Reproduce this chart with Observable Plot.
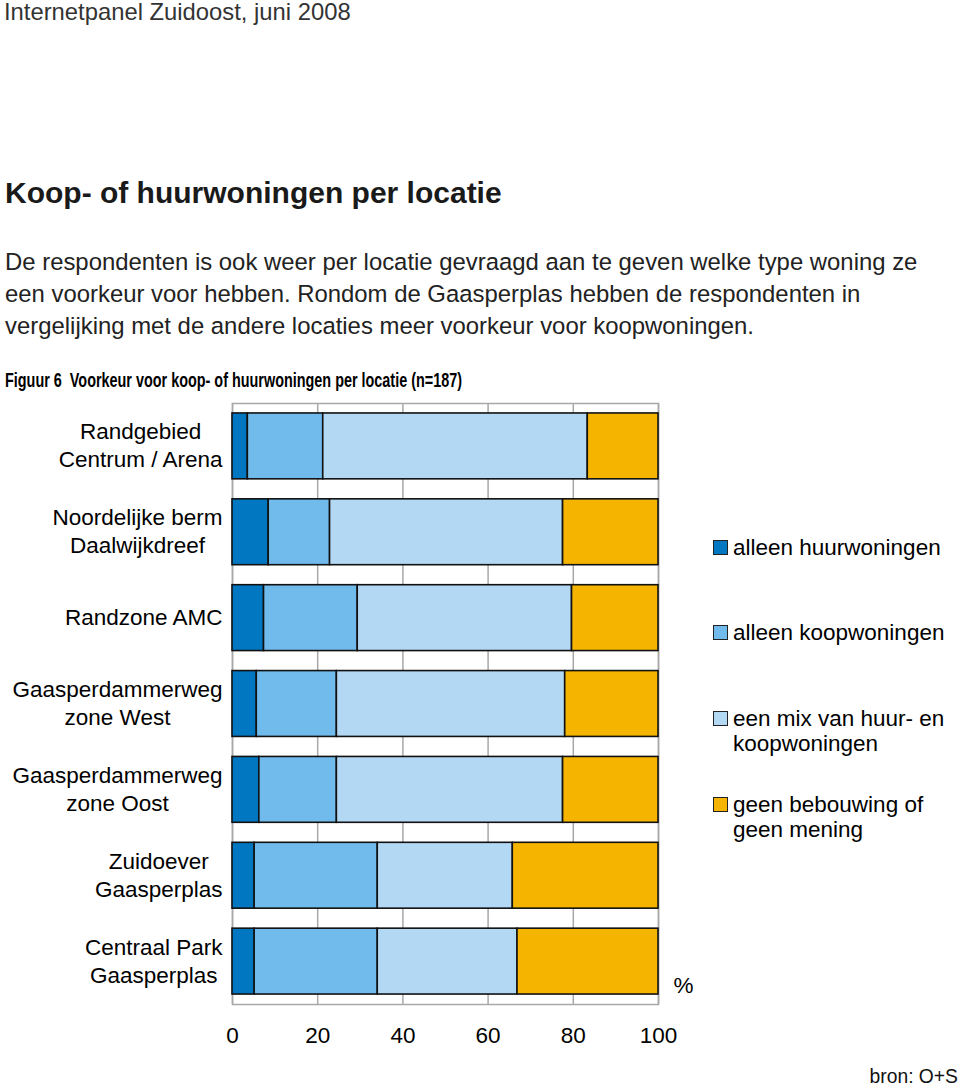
<!DOCTYPE html>
<html>
<head>
<meta charset="utf-8">
<script src="https://cdn.jsdelivr.net/npm/d3@7"></script>
<script src="https://cdn.jsdelivr.net/npm/@observablehq/plot@0.6"></script>
<style>
  html, body { margin: 0; padding: 0; background: #fff; }
  body { width: 960px; height: 1089px; position: relative; overflow: hidden;
         font-family: "Liberation Sans", Arial, Helvetica, sans-serif; color: #000; }
  .abs { position: absolute; white-space: nowrap; }
  #top { left: 4px; top: 0px; font-size: 23.8px; color: #333; line-height: 24px; }
  #title { left: 5px; top: 177px; font-size: 30px; font-weight: bold; color: #1a1a1a; line-height: 32px; }
  #para { left: 5px; top: 246px; font-size: 23.9px; color: #222; line-height: 32px; }
  #cap { left: 5px; top: 368px; font-size: 21px; font-weight: bold; line-height: 24px;
         transform-origin: 0 50%; }
  #chart { left: 0; top: 395px; }
  #legend { left: 713px; top: 0; font-size: 22.5px; }
  .item { position: absolute; left: 0; white-space: nowrap; }
  .sw { position: absolute; left: 0; width: 13px; height: 13px; border: 1px solid #222; }
  .lt { position: absolute; left: 20px; line-height: 25px; }
  #bron { right: 2px; top: 1066px; font-size: 19.3px; color: #111; }
</style>
</head>
<body>
<div id="top" class="abs">Internetpanel Zuidoost, juni 2008</div>
<div id="title" class="abs">Koop- of huurwoningen per locatie</div>
<div id="para" class="abs">De respondenten is ook weer per locatie gevraagd aan te geven welke type woning ze<br>een voorkeur voor hebben. Rondom de Gaasperplas hebben de respondenten in<br>vergelijking met de andere locaties meer voorkeur voor koopwoningen.</div>
<div id="cap" class="abs">Figuur 6&nbsp;&nbsp;Voorkeur voor koop- of huurwoningen per locatie (n=187)</div>
<div id="chart" class="abs"></div>
<div id="legend" class="abs"></div>
<div id="bron" class="abs">bron: O+S</div>
<script>
const categories = [
  "Randgebied\nCentrum / Arena",
  "Noordelijke berm\nDaalwijkdreef",
  "Randzone AMC",
  "Gaasperdammerweg\nzone West",
  "Gaasperdammerweg\nzone Oost",
  "Zuidoever\nGaasperplas",
  "Centraal Park\nGaasperplas"
];
const series = [
  "alleen huurwoningen",
  "alleen koopwoningen",
  "een mix van huur- en\nkoopwoningen",
  "geen bebouwing of\ngeen mening"
];
const colors = ["#0077c0", "#70bbeb", "#b3d8f4", "#f5b400"];
const huur = [3.6, 8.5, 7.4, 5.7, 6.3, 5.2, 5.2];
const koop = [17.7, 14.4, 22.0, 18.8, 18.2, 28.9, 28.9];
const mix  = [62.1, 54.7, 50.3, 53.6, 53.1, 31.7, 32.8];
const geen = [16.6, 22.4, 20.3, 21.9, 22.4, 34.2, 33.1];
const xTicks = [0, 20, 40, 60, 80, 100];

const valuesBySeries = [huur, koop, mix, geen];
const data = [];
categories.forEach((c, i) => {
  series.forEach((s, j) => data.push({cat: c, serie: s, value: valuesBySeries[j][i]}));
});

const chart = Plot.plot({
  width: 960,
  height: 670,
  marginTop: 8,
  marginBottom: 61,
  marginLeft: 232,
  marginRight: 302,
  style: {fontFamily: "'Liberation Sans', Arial, sans-serif", fontSize: "22.5px", color: "#000", background: "#fff"},
  x: {domain: [0, 100]},
  y: {domain: categories, paddingInner: 0.233, paddingOuter: 0.116, round: false},
  color: {domain: series, range: colors},
  marks: [
    Plot.gridX(xTicks, {stroke: "#a8a8a8", strokeOpacity: 1, strokeWidth: 1.5}),
    Plot.frame({stroke: "#a8a8a8", strokeWidth: 1.5}),
    Plot.barX(data, Plot.stackX({x: "value", y: "cat", fill: "serie", stroke: "#111", strokeWidth: 1.6, order: null})),
    Plot.axisX({ticks: xTicks, tickSize: 0, tickPadding: 23, label: null, fill: "#000"}),
    Plot.axisY({tickSize: 0, tickPadding: 10, dy: -2, label: null, lineHeight: 1.244, fill: "#000"}),
    Plot.text(["%"], {frameAnchor: "bottom-right", textAnchor: "middle", lineAnchor: "middle", dx: 25, dy: -19, fill: "#000"})
  ]
});
document.getElementById("chart").appendChild(chart);

// center each line of multi-line y labels within its right-aligned block
chart.querySelectorAll('g[aria-label="y-axis tick label"] text').forEach(t => {
  const spans = t.querySelectorAll("tspan");
  if (spans.length < 2) return;
  const ws = Array.from(spans, s => s.getComputedTextLength());
  const maxW = Math.max(...ws);
  spans.forEach((s, k) => s.setAttribute("x", -(maxW - ws[k]) / 2));
});

// condense the figure caption to its printed width
const cap = document.getElementById("cap");
const capW = cap.getBoundingClientRect().width;
cap.style.transform = `scaleX(${457 / capW})`;

// legend
const legendTops = [535, 620, 706, 792];
const legend = document.getElementById("legend");
series.forEach((s, j) => {
  const item = document.createElement("div");
  item.className = "item";
  item.style.top = legendTops[j] + "px";
  const sw = document.createElement("div");
  sw.className = "sw";
  sw.style.background = colors[j];
  sw.style.top = "5px";
  const lt = document.createElement("div");
  lt.className = "lt";
  lt.innerHTML = s.replace("\n", "<br>");
  item.appendChild(sw);
  item.appendChild(lt);
  legend.appendChild(item);
});
</script>
</body>
</html>
